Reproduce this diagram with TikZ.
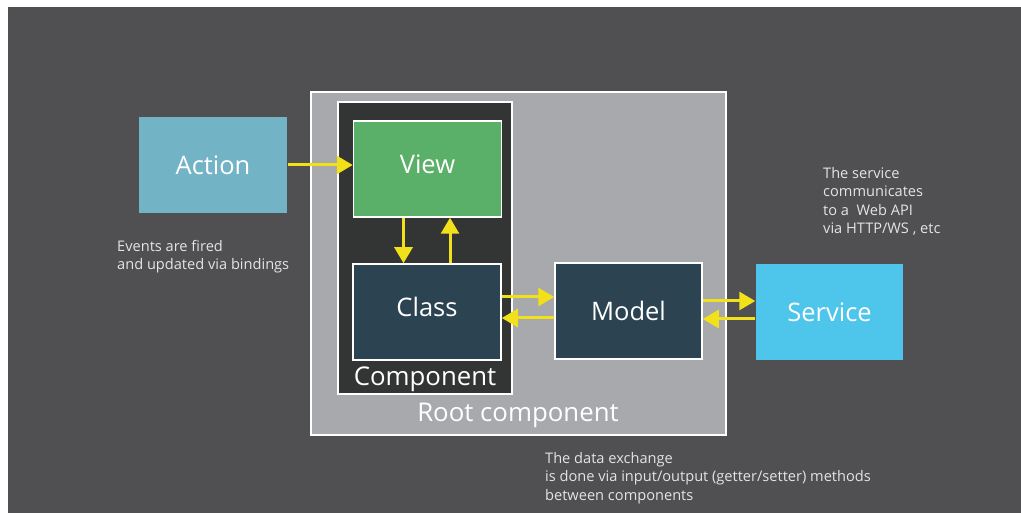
\documentclass[tikz,border=0pt]{standalone}
\usepackage{fontspec}
\setmainfont{Open Sans}
\usetikzlibrary{arrows.meta}
\definecolor{bggray}{HTML}{505052}
\definecolor{rootgray}{HTML}{A8A9AC}
\definecolor{compdark}{HTML}{333434}
\definecolor{viewgreen}{HTML}{5AAF69}
\definecolor{slate}{HTML}{2C4452}
\definecolor{actionblue}{HTML}{72B3C6}
\definecolor{serviceblue}{HTML}{4EC5EA}
\definecolor{flowyellow}{HTML}{F2E01B}
\definecolor{notegray}{HTML}{E4E4E4}

\begin{document}
\begin{tikzpicture}[x=1pt,y=-1pt,>=Latex,
 box/.style={draw=white,line width=1.5pt,minimum width=148pt,minimum height=96pt,inner sep=0pt,text=white,font=\fontsize{25.5}{28}\selectfont},
 frame/.style={draw=white,line width=1.5pt,inner sep=0pt},
 note/.style={anchor=north west,align=left,inner sep=0pt,text=notegray,font=\fontsize{14.6}{18.4}\selectfont},
 title/.style={anchor=base,text=white,inner sep=0pt,font=\fontsize{25.8}{28}\selectfont},
 flow/.style={-{Triangle[length=16pt,width=18pt]},line width=3pt,flowyellow}]
\useasboundingbox (0,0) rectangle (1021,513);
\fill[bggray] (8,7) rectangle (1021,513);

% containers
\node[frame,fill=rootgray,minimum width=415pt,minimum height=343pt] (root) at (518.5,263.5) {};
\node[frame,fill=compdark,minimum width=174pt,minimum height=292pt] (comp) at (425,248) {};
\node[title] (comptitle) at (425,385) {Component};
\node[title] (roottitle) at (518,421) {Root component};

% boxes
\node[box,fill=viewgreen,text depth=10pt] (view) at (427.5,169) {View};
\node[box,fill=slate,text depth=10pt] (class) at (427,312) {Class};
\node[box,fill=slate,minimum width=147pt] (model) at (628.5,311) {Model};
\node[box,draw=none,fill=actionblue] (action) at (213,165) {Action};
\node[box,draw=none,fill=serviceblue,minimum width=147pt] (service) at (829.5,312) {Service};

% flows
\draw[flow] (action.east) -- (action.east -| view.west);
\draw[flow] ([xshift=-24pt]view.south) -- ([xshift=-24pt]view.south |- class.north);
\draw[flow] ([xshift=23pt]class.north) -- ([xshift=23pt]class.north |- view.south);
\draw[flow] ([yshift=15pt]class.east) -- ([yshift=15pt]class.east -| model.west);
\draw[flow] ([yshift=-7pt]model.west) -- ([yshift=-7pt]model.west -| class.east);
\draw[flow] ([yshift=10pt]model.east) -- ([yshift=10pt]model.east -| service.west);
\draw[flow] ([yshift=-7pt]service.west) -- ([yshift=-7pt]service.west -| model.east);

% notes
\node[note] (evnote) at (117,240) {Events are fired\\and updated via bindings};
\node[note] (svnote) at (823,167) {The service\\communicates\\to a\ \ Web API\\via HTTP/WS , etc};
\node[note] (datanote) at (545,452) {The data exchange\\is done via input/output (getter/setter) methods\\between components};
\end{tikzpicture}
\end{document}
